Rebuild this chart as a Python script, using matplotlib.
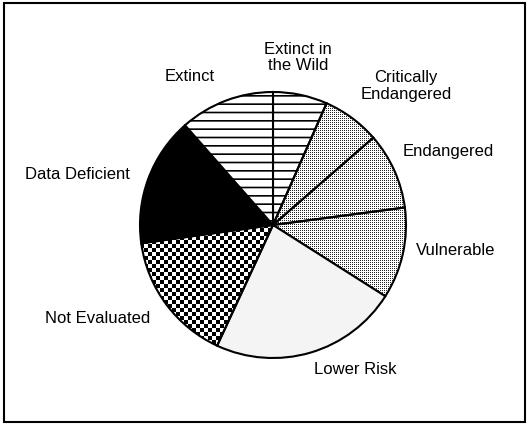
import matplotlib
matplotlib.use('Agg')
import matplotlib.pyplot as plt
import numpy as np
from matplotlib.patches import Rectangle

plt.rcParams['font.family'] = ['Liberation Sans', 'DejaVu Sans']
plt.rcParams['hatch.linewidth'] = 1.2

# categories, clockwise from 12 o'clock (% of species)
categories = ['Extinct in\nthe Wild', 'Critically\nEndangered', 'Endangered', 'Vulnerable',
              'Lower Risk', 'Not Evaluated', 'Data Deficient', 'Extinct']
values = [6.6, 7.0, 9.3, 11.1, 22.9, 15.9, 15.7, 11.5]

# styles: face colour, hatch, bitmap fill ('' none, 'dots', 'checker')
faces = ['white', 'none', 'none', 'none', '#f4f4f4', 'none', 'black', 'white']
hatches = ['--', '', '', '', '', '', '', '--']
fills = ['', 'dots', 'dots', 'dots', '', 'checker', '', '']
# label positions in pie radius units
label_pos = [(0.19, 1.26), (1.0, 1.045), (1.32, 0.55), (1.37, -0.195),
             (0.62, -1.083), (-1.32, -0.70), (-1.47, 0.383), (-0.63, 1.113)]

W, H = 529, 424
fig = plt.figure(figsize=(W/100, H/100), dpi=100)
cx, cy, r = 273, 225, 133
ax = fig.add_axes([(cx-r)/W, (H-cy-r)/H, 2*r/W, 2*r/H])

# bitmap patterns (one texel per screen pixel)
n = 2*r
i, j = np.mgrid[0:n, 0:n]
patterns = {
    'dots': np.where(((i + j) % 2 == 0) & (i % 2 == 0), 0.15, 1.0),
    'checker': np.where(((i // 4) + (j // 4)) % 2 == 0, 0.0, 1.0),
}

wedges, _ = ax.pie(values, startangle=90, counterclock=False, radius=1,
                   wedgeprops=dict(edgecolor='black', linewidth=1.5))
for w, f, h, p in zip(wedges, faces, hatches, fills):
    w.set_facecolor(f)
    w.set_hatch(h)
    w.set_zorder(3)
    if p:
        im = ax.imshow(patterns[p], cmap='gray', vmin=0, vmax=1, extent=(-1, 1, -1, 1),
                       interpolation='nearest', zorder=1)
        im.set_clip_path(w)

for lab, (x, y) in zip(categories, label_pos):
    ax.text(x, y, lab, ha='center', va='center', fontsize=12, clip_on=False,
            linespacing=1.15)

ax.set_xlim(-1, 1)
ax.set_ylim(-1, 1)
ax.axis('off')

# frame around the figure
fig.patches.append(Rectangle((4/W, 2/H), 1-8/W, 1-5/H, transform=fig.transFigure,
                             fill=False, edgecolor='black', linewidth=1.5))

fig.savefig('out.png', dpi=100)
